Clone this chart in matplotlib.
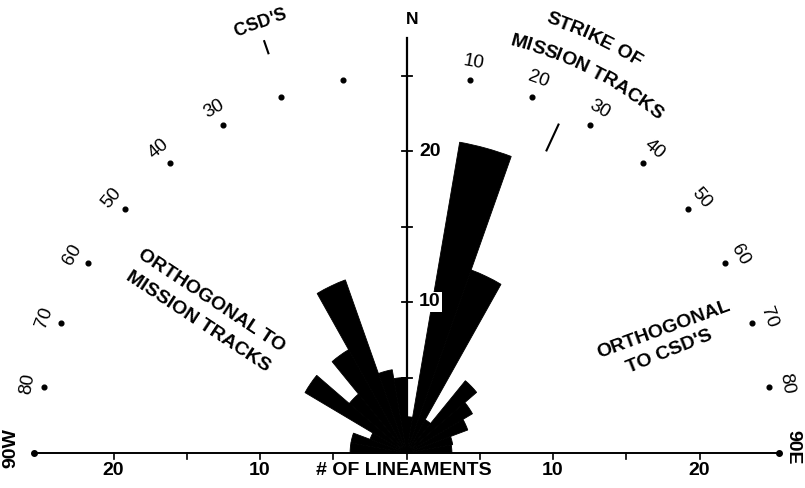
import numpy as np
import matplotlib.pyplot as plt
from matplotlib.patches import Wedge
from matplotlib.font_manager import FontProperties, findfont, get_font

FONT = 'Liberation Sans'
DPI = 100

# pixel geometry of the scanned diagram (x and y scales differ slightly)
X0, Y0 = 406.5, 453.0   # centre of the rose, pixels from top-left
SX, SY = 14.65, 15.1    # pixels per lineament, horizontal / vertical

# lineament strike counts in 10 degree bins, N90W -> N90E
bin_edges = np.arange(-90, 91, 10)
counts = [3.85, 3.85, 2.65, 8.0, 5.1, 7.9, 12.2, 5.6, 5.0,
          2.4, 20.9, 12.9, 2.55, 6.25, 5.2, 4.45, 3.2, 3.1]

# azimuth dots and their labels
dot_angles = [-80, -70, -60, -50, -40, -30, -20, -10,
              10, 20, 30, 40, 50, 60, 70, 80]
label_angles = [-80, -70, -60, -50, -40, -30,
                10, 20, 30, 40, 50, 60, 70, 80]
dot_radius = 25.1
label_radius = 26.3

# count scales
vert_ticks = [5, 10, 15, 20, 25]
vert_labels = {10: '10', 20: '20'}
horiz_ticks = [-20, -15, -10, -5, 0, 5, 10, 15, 20]
horiz_labels = {-20: '20', -10: '10', 10: '10', 20: '20'}
axis_end = 25.4

# reference strikes
csd_strike = -19.6
track_strike = 25.5


def px(x, y):
    return (x - X0) / SX, (Y0 - y) / SY


def polar(r, a):
    a = np.radians(a)
    return r * np.sin(a), r * np.cos(a)


def arc_text(ax, s, r, ang, size):
    fp = FontProperties(family=FONT, size=size, weight='bold')
    font = get_font(findfont(fp))
    font.set_size(size, 72)
    adv = [font.load_char(ord(c)).linearHoriAdvance / 65536 for c in s]
    total = sum(adv)
    scale = DPI / 72 / ((SX + SY) / 2)
    pos = 0
    for c, w in zip(s, adv):
        off = (pos + w / 2 - total / 2) * scale
        a = ang + np.degrees(off / r)
        x, y = polar(r, a)
        ax.text(x, y, c, rotation=-a, ha='center', va='baseline',
                rotation_mode='anchor', fontproperties=fp, color='black')
        pos += w


fig = plt.figure(figsize=(805 / DPI, 488 / DPI), dpi=DPI)
ax = fig.add_axes([0, 0, 1, 1])
ax.set_xlim(-X0 / SX, (805 - X0) / SX)
ax.set_ylim(-(488 - Y0) / SY, Y0 / SY)
ax.axis('off')

txt = dict(family=FONT, weight='bold', color='black')

# rose petals
for lo, hi, n in zip(bin_edges[:-1], bin_edges[1:], counts):
    ax.add_patch(Wedge((0, 0), n, 90 - hi, 90 - lo, facecolor='black',
                       edgecolor='black', lw=0.6, zorder=2))

# vertical (north) axis
ax.plot([0, 0], [0, 27.5], color='black', lw=1.6, zorder=3)
for v in vert_ticks:
    ax.plot([-0.3, 0.35], [v, v], color='black', lw=1.3, zorder=3)
for v, s in vert_labels.items():
    ax.text(1.6, v, s, ha='center', va='center', fontsize=14, zorder=4,
            bbox=dict(facecolor='white', edgecolor='none', pad=1.0), **txt)
ax.text(0.35, 28.7, 'N', ha='center', va='center', fontsize=12.5, **txt)

# horizontal count axis
ax.plot([-axis_end, axis_end], [0, 0], color='black', lw=1.4, zorder=3)
ax.plot([-axis_end, axis_end], [0, 0], 'o', color='black', ms=4, zorder=3)
for v in horiz_ticks:
    ax.plot([v, v], [0, -0.4], color='black', lw=1.2, zorder=3)
for v, s in horiz_labels.items():
    ax.text(v, -1.13, s, ha='center', va='center', fontsize=14, **txt)
ax.text(-0.17, -1.13, '# OF LINEAMENTS', ha='center', va='center',
        fontsize=14, **txt)
ax.text(-27.0, 0.35, '90W', rotation=90, ha='center', va='center',
        fontsize=14, **txt)
ax.text(26.4, 0.4, '90E', rotation=-90, ha='center', va='center',
        fontsize=14, **txt)

# azimuth dots and labels
dx, dy = polar(dot_radius, np.array(dot_angles))
ax.plot(dx, dy, 'o', color='black', ms=3.4, zorder=3)
for a in label_angles:
    x, y = polar(label_radius, a)
    ax.text(x, y, str(abs(a)), rotation=-a, ha='center', va='center',
            rotation_mode='anchor', fontsize=13.5, family=FONT,
            color='black')

# strike markers
for a, r0, r1 in [(csd_strike, 28.1, 28.95), (track_strike, 22.2, 24.1)]:
    xa, ya = polar(r0, a)
    xb, yb = polar(r1, a)
    ax.plot([xa, xb], [ya, yb], color='black', lw=1.5)

arc_text(ax, "CSD'S", 29.9, -19.3, 13)
arc_text(ax, 'STRIKE OF', 30.05, 25.0, 14)
arc_text(ax, 'MISSION TRACKS', 27.95, 26.2, 14)

# orthogonal annotations
for s, (x, y), rot in [('ORTHOGONAL TO', px(211, 301), -33.5),
                       ('MISSION TRACKS', px(198, 322), -33.4),
                       ('ORTHOGONAL', px(664, 330), 20),
                       ("TO CSD'S", px(670, 352), 22)]:
    ax.text(x, y, s, rotation=rot, ha='center', va='center',
            rotation_mode='anchor', fontsize=14, **txt)

fig.savefig('out.png', dpi=DPI)
